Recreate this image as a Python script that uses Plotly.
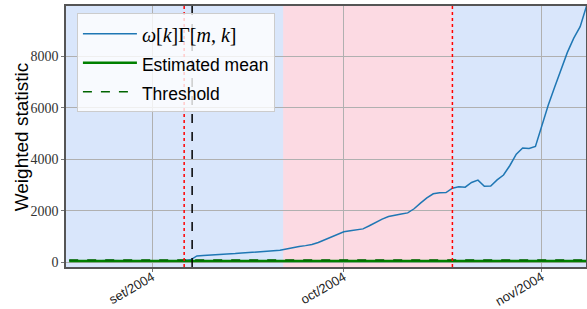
import plotly.graph_objects as go
import pandas as pd

# ---- data ----
start_date = "2004-08-19"
stat_values = [
    62, 58, 66, 60, 55, 63, 68, 59, 61, 64, 57, 62, 66,   # Aug 19 - Aug 31
    60, 65, 63, 58, 62, 70, 100,                          # Sep 1 - Sep 7
    250, 270, 280, 290, 300, 320, 340, 360, 380, 390, 400, 420, 440, 470,  # Sep 8 - Sep 21
    520, 580, 620, 650, 690, 770, 880, 990, 1090,         # Sep 22 - Sep 30
    1190, 1230, 1260, 1300, 1420, 1560, 1680, 1780, 1840, 1880, 1920,  # Oct 1 - Oct 11
    2080, 2300, 2500, 2660, 2700, 2710, 2880, 2930, 2920, 3100, 3190,  # Oct 12 - Oct 22
    2950, 2960, 3200, 3390, 3760, 4200, 4440, 4420, 4500,  # Oct 23 - Oct 31
    5350, 6100, 6800, 7450, 8150, 8700, 9150, 9950,        # Nov 1 - Nov 8
]
dates = list(pd.date_range(start_date, periods=len(stat_values), freq="D"))
est_mean = [50] * len(stat_values)
threshold = [95] * len(stat_values)

regime_spans = [("2004-08-18 12:00", "2004-09-21 12:00", "#d9e6fb"),
                ("2004-09-21 12:00", "2004-10-18 00:00", "#fcdae3"),
                ("2004-10-18 00:00", "2004-11-07 22:00", "#d9e6fb")]
red_lines = ["2004-09-06 00:00", "2004-10-18 00:00"]
detect_line = "2004-09-07 06:00"

x_range = ["2004-08-18 12:00", "2004-11-07 22:00"]
y_range = [-180, 9950]
x_tickvals = ["2004-09-01", "2004-10-01", "2004-11-01"]
x_ticktext = ["set/2004", "oct/2004", "nov/2004"]
y_tickvals = [0, 2000, 4000, 6000, 8000]

# ---- figure ----
fig = go.Figure()
fig.add_trace(go.Scatter(
    x=dates, y=stat_values, mode="lines",
    line=dict(color="#1f77b4", width=1.5),
    name="<span style='font-family:Liberation Serif;font-size:20px'><i>ω</i>[<i>k</i>]Γ[<i>m</i>, <i>k</i>]</span>"))
fig.add_trace(go.Scatter(
    x=dates, y=est_mean, mode="lines",
    line=dict(color="#008000", width=2.5), name="<span style='font-size:17.5px'>Estimated mean</span>"))
fig.add_trace(go.Scatter(
    x=dates, y=threshold, mode="lines",
    line=dict(color="#006400", width=1.5, dash="dash"), name="<span style='font-size:17.5px'>Threshold</span>"))

shapes = []
for x0, x1, col in regime_spans:
    shapes.append(dict(type="rect", xref="x", yref="paper", x0=x0, x1=x1, y0=0, y1=1,
                       fillcolor=col, line=dict(width=0), layer="below"))
for xv in red_lines:
    shapes.append(dict(type="line", xref="x", yref="paper", x0=xv, x1=xv, y0=0, y1=1,
                       line=dict(color="red", width=1.5, dash="dot"), layer="above"))
shapes.append(dict(type="line", xref="x", yref="paper", x0=detect_line, x1=detect_line,
                   y0=0, y1=1, line=dict(color="black", width=1.5, dash="dash"), layer="above"))

fig.update_layout(
    width=587, height=309,
    margin=dict(l=66, r=1, t=6, b=42, autoexpand=False),
    paper_bgcolor="white", plot_bgcolor="#d9e6fb",
    shapes=shapes,
    showlegend=True,
    legend=dict(x=0.021, y=0.972, xanchor="left", yanchor="top",
                bgcolor="rgba(255,255,255,0.8)", bordercolor="#cccccc", borderwidth=1,
                font=dict(family="Liberation Sans", size=20, color="black"),
                itemwidth=54, tracegroupgap=0),
    annotations=[dict(text="Weighted statistic", xref="paper", yref="paper",
                      x=-0.085, y=0.5, xanchor="center", yanchor="middle",
                      textangle=-90, showarrow=False,
                      font=dict(family="Liberation Sans", size=19, color="black"))],
)
fig.update_xaxes(range=x_range, tickvals=x_tickvals, ticktext=x_ticktext,
                 tickangle=-30, tickfont=dict(family="Liberation Sans", size=13, color="#222"),
                 ticklabelstandoff=-7,
                 showgrid=True, gridcolor="#b0b0b0", gridwidth=1, automargin=False,
                 showline=True, linecolor="#555", linewidth=1.5, mirror=True,
                 ticks="outside", ticklen=3, tickcolor="#777", zeroline=False)
fig.update_yaxes(range=y_range, tickvals=y_tickvals, automargin=False,
                 tickfont=dict(family="Liberation Serif", size=14, color="#333"),
                 showgrid=True, gridcolor="#b0b0b0", gridwidth=1,
                 showline=True, linecolor="#555", linewidth=1.5, mirror=True,
                 ticks="outside", ticklen=3, tickcolor="#777", zeroline=False)

fig.write_html("out.html", config={"displayModeBar": False},
               post_script="document.body.style.margin='0';document.body.style.overflow='hidden';")
